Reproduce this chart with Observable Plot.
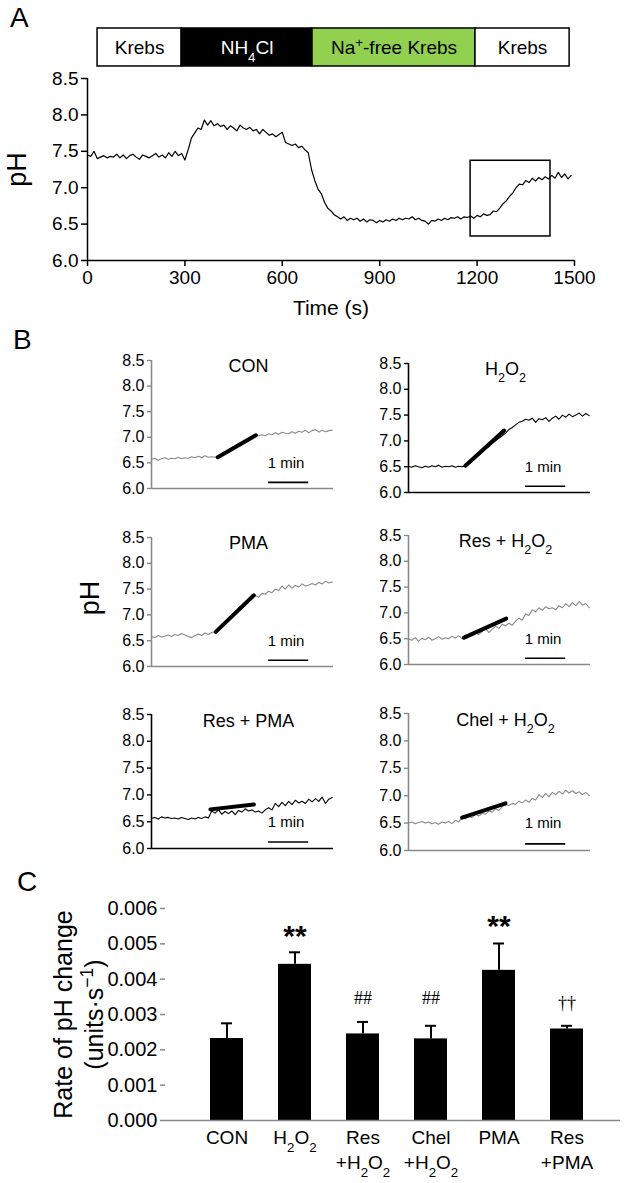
<!DOCTYPE html>
<html><head><meta charset="utf-8">
<script src="https://cdn.jsdelivr.net/npm/d3@7"></script>
<script src="https://cdn.jsdelivr.net/npm/@observablehq/plot@0.6"></script>
<style>
body{margin:0;background:#fff;}
#root{position:relative;width:626px;height:1183px;overflow:hidden;background:#fff;font-family:"Liberation Sans",Arial,Helvetica,sans-serif;color:#000;}
.panel{position:absolute;}
.panel svg{overflow:visible;}
.letter{position:absolute;font-size:28px;line-height:1;}
.vlabel{position:absolute;transform:translate(-50%,-50%) rotate(-90deg);white-space:nowrap;line-height:1;}
</style></head><body><div id="root"></div>
<script>
// ---------------- DATA ----------------
// Panel A: pH trace sampled every 10 s (0 … 1490 s)
const phA = [
  7.45, 7.43, 7.50, 7.40, 7.42, 7.44, 7.41, 7.43, 7.42, 7.46,
  7.41, 7.45, 7.40, 7.44, 7.46, 7.42, 7.39, 7.45, 7.43, 7.41,
  7.44, 7.47, 7.42, 7.45, 7.41, 7.48, 7.43, 7.50, 7.44, 7.47,
  7.38, 7.52, 7.68, 7.75, 7.82, 7.80, 7.93, 7.86, 7.92, 7.85,
  7.88, 7.84, 7.86, 7.80, 7.85, 7.82, 7.78, 7.86, 7.82, 7.80,
  7.83, 7.78, 7.80, 7.74, 7.80, 7.76, 7.72, 7.74, 7.70, 7.73,
  7.76, 7.62, 7.60, 7.58, 7.60, 7.55, 7.57, 7.52, 7.48, 7.25,
  7.10, 6.98, 6.92, 6.80, 6.72, 6.68, 6.63, 6.60, 6.57, 6.60,
  6.55, 6.58, 6.56, 6.58, 6.54, 6.57, 6.53, 6.56, 6.55, 6.52,
  6.55, 6.53, 6.56, 6.54, 6.57, 6.55, 6.58, 6.56, 6.58, 6.57,
  6.60, 6.56, 6.58, 6.55, 6.54, 6.50, 6.55, 6.54, 6.57, 6.55,
  6.58, 6.56, 6.59, 6.58, 6.60, 6.57, 6.60, 6.59, 6.61, 6.58,
  6.62, 6.60, 6.64, 6.62, 6.63, 6.68, 6.67, 6.72, 6.78, 6.82,
  6.88, 6.93, 7.00, 7.05, 7.04, 7.10, 7.07, 7.13, 7.09, 7.14,
  7.11, 7.15, 7.12, 7.17, 7.13, 7.21, 7.14, 7.19, 7.12, 7.17
];
const stepA = 10;
const timeTicksA = [0, 300, 600, 900, 1200, 1500];
const phTicks = [6.0, 6.5, 7.0, 7.5, 8.0, 8.5];
// solution bar above panel A
const bathLabels = ["Krebs", "NH_{4}Cl", "Na^{+}-free Krebs", "Krebs"];
const bathStart  = [31, 290, 693, 1195];
const bathEnd    = [290, 693, 1195, 1485];
// zoom box (region enlarged in panel B)
const boxTime = [1180, 1426];
const boxPH   = [6.33, 7.37];

// Panel B: traces sampled every 5 s (0 … 270 s)
const stepB = 5;
const titlesB = ["CON", "H_{2}O_{2}", "PMA", "Res + H_{2}O_{2}", "Res + PMA", "Chel + H_{2}O_{2}"];
const traceCON = [
  6.57, 6.59, 6.55, 6.58, 6.60, 6.57, 6.59, 6.58, 6.61, 6.58, 6.60,
  6.59, 6.62, 6.60, 6.63, 6.60, 6.64, 6.61, 6.62, 6.61, 6.63, 6.67,
  6.71, 6.75, 6.80, 6.83, 6.88, 6.91, 6.95, 6.98, 7.01, 7.04, 7.03,
  7.05, 7.03, 7.07, 7.05, 7.09, 7.06, 7.10, 7.08, 7.07, 7.11, 7.08,
  7.12, 7.10, 7.14, 7.09, 7.13, 7.15, 7.10, 7.14, 7.11, 7.13, 7.14
];
const traceH2O2 = [
  6.51, 6.49, 6.52, 6.50, 6.48, 6.51, 6.49, 6.52, 6.50, 6.53, 6.49,
  6.51, 6.50, 6.52, 6.49, 6.51, 6.50, 6.52, 6.55, 6.60, 6.66, 6.72,
  6.78, 6.84, 6.89, 6.95, 7.00, 7.05, 7.10, 7.15, 7.22, 7.26, 7.31,
  7.36, 7.38, 7.42, 7.40, 7.44, 7.36, 7.43, 7.41, 7.45, 7.38, 7.44,
  7.48, 7.42, 7.50, 7.46, 7.52, 7.47, 7.50, 7.54, 7.48, 7.53, 7.49
];
const tracePMA = [
  6.58, 6.56, 6.60, 6.57, 6.59, 6.61, 6.58, 6.62, 6.60, 6.64, 6.61,
  6.58, 6.56, 6.60, 6.63, 6.60, 6.65, 6.62, 6.66, 6.68, 6.74, 6.80,
  6.86, 6.92, 6.99, 7.05, 7.11, 7.18, 7.24, 7.30, 7.35, 7.38, 7.34,
  7.42, 7.40, 7.46, 7.43, 7.50, 7.47, 7.56, 7.50, 7.58, 7.52, 7.57,
  7.54, 7.60, 7.56, 7.58, 7.61, 7.58, 7.63, 7.60, 7.65, 7.62, 7.64
];
const traceResH2O2 = [
  6.50, 6.47, 6.52, 6.45, 6.51, 6.48, 6.53, 6.47, 6.50, 6.54, 6.49,
  6.52, 6.50, 6.55, 6.51, 6.56, 6.50, 6.53, 6.58, 6.56, 6.62, 6.58,
  6.64, 6.70, 6.62, 6.68, 6.74, 6.70, 6.78, 6.75, 6.80, 6.76, 6.84,
  6.90, 6.86, 6.98, 6.95, 7.06, 7.02, 7.10, 7.05, 7.12, 7.08, 7.10,
  7.06, 7.14, 7.10, 7.18, 7.12, 7.20, 7.14, 7.22, 7.15, 7.18, 7.10
];
const traceResPMA = [
  6.56, 6.58, 6.55, 6.59, 6.57, 6.58, 6.56, 6.57, 6.55, 6.58, 6.56,
  6.54, 6.57, 6.55, 6.58, 6.56, 6.59, 6.57, 6.70, 6.66, 6.72, 6.64,
  6.69, 6.65, 6.70, 6.63, 6.71, 6.68, 6.74, 6.70, 6.72, 6.68, 6.70,
  6.66, 6.72, 6.76, 6.72, 6.84, 6.78, 6.86, 6.80, 6.88, 6.82, 6.90,
  6.85, 6.88, 6.84, 6.92, 6.87, 6.93, 6.88, 6.96, 6.84, 6.92, 6.95
];
const traceChelH2O2 = [
  6.50, 6.52, 6.49, 6.51, 6.53, 6.50, 6.52, 6.49, 6.51, 6.48, 6.52,
  6.50, 6.53, 6.49, 6.55, 6.52, 6.60, 6.58, 6.62, 6.60, 6.66, 6.63,
  6.68, 6.66, 6.72, 6.70, 6.76, 6.73, 6.80, 6.84, 6.82, 6.86, 6.84,
  6.90, 6.87, 6.92, 6.88, 6.95, 6.92, 7.02, 6.97, 7.04, 6.98, 7.06,
  7.02, 7.08, 7.03, 7.10, 7.05, 7.09, 7.04, 7.07, 7.02, 7.06, 7.00
];
const tracesB = [traceCON, traceH2O2, tracePMA, traceResH2O2, traceResPMA, traceChelH2O2];
// fitted slope segments [t0, pH0] -> [t1, pH1]
const fitT0  = [99, 85, 96, 83, 88, 80];
const fitPH0 = [6.61, 6.52, 6.67, 6.52, 6.73, 6.60];
const fitT1  = [156, 143, 153, 146, 153, 145];
const fitPH1 = [7.04, 7.20, 7.38, 6.89, 6.82, 6.86];
const scaleBarT = [175, 235];   // 1 min
const scaleBarLabel = "1 min";

// Panel C
const groupsC = ["CON", "H_{2}O_{2}", "Res\n+H_{2}O_{2}", "Chel\n+H_{2}O_{2}", "PMA", "Res\n+PMA"];
const rateC   = [0.00232, 0.00442, 0.00245, 0.00231, 0.00425, 0.00259];
const errTopC = [0.00275, 0.00476, 0.00279, 0.00268, 0.00501, 0.00268];
const sigC    = ["", "**", "##", "##", "**", "††"];
const sigPosC = [0, 0.00522, 0.00345, 0.00345, 0.00548, 0.00333];
const rateTicks = [0, 0.001, 0.002, 0.003, 0.004, 0.005, 0.006];

// ---------------- STYLES / LAYOUT ----------------
const FONT = '"Liberation Sans", Arial, Helvetica, sans-serif';
const SERIF = '"Liberation Serif", "Times New Roman", serif';
const GREY = "#8a8a8a";
const bathFill = ["#ffffff", "#000000", "#92d050", "#ffffff"];
const bathInk  = ["#000000", "#ffffff", "#000000", "#000000"];
const styleB = [
  {axis: GREY, trace: GREY},
  {axis: "#000", trace: "#000"},
  {axis: GREY, trace: GREY},
  {axis: GREY, trace: GREY},
  {axis: "#000", trace: "#000"},
  {axis: GREY, trace: GREY}
];
const layoutB = [
  {left: 106, top: 360, bottom: 488},
  {left: 363, top: 363, bottom: 492},
  {left: 106, top: 537, bottom: 666},
  {left: 363, top: 535, bottom: 664},
  {left: 106, top: 714, bottom: 848},
  {left: 363, top: 713, bottom: 850}
];

const root = document.getElementById("root");

function rich(node) {
  const walker = document.createTreeWalker(node, NodeFilter.SHOW_TEXT);
  const list = [];
  while (walker.nextNode()) if (/[_^]\{/.test(walker.currentNode.nodeValue)) list.push(walker.currentNode);
  for (const tn of list) {
    const parts = tn.nodeValue.split(/([_^]\{[^}]*\})/);
    const frag = document.createDocumentFragment();
    for (const p of parts) {
      if (!p) continue;
      const m = p.match(/^([_^])\{([^}]*)\}$/);
      if (m) {
        const ts = document.createElementNS("http://www.w3.org/2000/svg", "tspan");
        ts.setAttribute("baseline-shift", m[1] === "_" ? "sub" : "super");
        ts.setAttribute("font-size", "70%");
        ts.textContent = m[2];
        frag.appendChild(ts);
      } else frag.appendChild(document.createTextNode(p));
    }
    tn.parentNode.replaceChild(frag, tn);
  }
}
function place(node, left, top) {
  const d = document.createElement("div");
  d.className = "panel";
  d.style.left = left + "px";
  d.style.top = top + "px";
  d.appendChild(node);
  root.appendChild(d);
  rich(node);
}
function letter(txt, left, top) {
  const d = document.createElement("div");
  d.className = "letter";
  d.style.left = left + "px";
  d.style.top = top + "px";
  d.textContent = txt;
  root.appendChild(d);
}

// ---------------- PANEL A ----------------
const dataA = phA.map((v, i) => ({t: i * stepA, ph: v}));
const bath = bathLabels.map((l, i) => ({label: l, start: bathStart[i], end: bathEnd[i], fill: bathFill[i], ink: bathInk[i]}));
const plotA = Plot.plot({
  width: 626, height: 320,
  marginLeft: 87, marginRight: 52, marginTop: 78, marginBottom: 60,
  x: {domain: [0, 1500]},
  y: {domain: [6, 8.5]},
  color: {type: "identity"},
  style: {fontFamily: FONT, fontSize: "19px", color: "#000", background: "transparent", overflow: "visible"},
  marks: [
    Plot.ruleY([6], {stroke: "#000", strokeWidth: 1.5}),
    Plot.ruleX([0], {stroke: "#000", strokeWidth: 1.5}),
    Plot.axisX({ticks: timeTicksA, tickFormat: d => String(d), tickSize: 6, tickPadding: 4, fontSize: 19, label: null, strokeWidth: 1.5}),
    Plot.axisY({ticks: phTicks, tickFormat: d3.format(".1f"), tickSize: 6, tickPadding: 3, fontSize: 19, label: null, strokeWidth: 1.5}),
    Plot.line(dataA, {x: "t", y: "ph", stroke: "#000", strokeWidth: 1.2}),
    Plot.rect([0], {x1: boxTime[0], x2: boxTime[1], y1: boxPH[0], y2: boxPH[1], fill: "none", stroke: "#000", strokeWidth: 1.5}),
    Plot.rect(bath, {x1: "start", x2: "end", y1: 8.665, y2: 9.187, fill: "fill", stroke: "#000", strokeWidth: 1.5}),
    Plot.text(bath, {x: d => (d.start + d.end) / 2, y: 8.926, text: "label", fill: "ink", fontSize: 19}),
    Plot.text(["Time (s)"], {text: d => d, frameAnchor: "bottom", dy: 48, lineAnchor: "middle", fontSize: 21}),
    Plot.text(["pH"], {text: d => d, frameAnchor: "left", textAnchor: "middle", lineAnchor: "middle", rotate: -90, dx: -70, fontSize: 27})
  ]
});
place(plotA, 0, 0);
letter("A", 10, 4);

// ---------------- PANEL B ----------------
tracesB.forEach((tr, k) => {
  const data = tr.map((v, i) => ({t: i * stepB, ph: v}));
  const fit = [{t: fitT0[k], ph: fitPH0[k]}, {t: fitT1[k], ph: fitPH1[k]}];
  const L = layoutB[k], S = styleB[k];
  const h = L.bottom - L.top;
  const mt = 12, mb = 4;
  const svg = Plot.plot({
    width: 230, height: mt + h + mb,
    marginLeft: 45, marginRight: 3, marginTop: mt, marginBottom: mb,
    x: {domain: [0, 272], axis: null},
    y: {domain: [6, 8.5]},
    style: {fontFamily: FONT, fontSize: "16px", color: "#000", background: "transparent", overflow: "visible"},
    marks: [
      Plot.ruleY([6], {stroke: S.axis, strokeWidth: 1.6}),
      Plot.ruleX([0], {stroke: S.axis, strokeWidth: 1.6}),
      Plot.axisY({ticks: phTicks, tickFormat: d3.format(".1f"), tickSize: 4, tickPadding: 3, fontSize: 16, label: null, stroke: S.axis, fill: "#000", strokeWidth: 1.4}),
      Plot.line(data, {x: "t", y: "ph", stroke: S.trace, strokeWidth: 1.1}),
      Plot.line(fit, {x: "t", y: "ph", stroke: "#000", strokeWidth: 4}),
      Plot.ruleY([6.12], {x1: scaleBarT[0], x2: scaleBarT[1], stroke: "#000", strokeWidth: 1.6}),
      Plot.text([scaleBarLabel], {text: d => d, x: (scaleBarT[0] + scaleBarT[1]) / 2 - 4, y: 6.5, fontSize: 15}),
      Plot.text([titlesB[k]], {text: d => d, x: 145, y: 8.38, fontSize: 18})
    ]
  });
  place(svg, L.left, L.top - mt);
});
letter("B", 13, 326);
const phB = document.createElement("div");
phB.className = "vlabel";
phB.style.left = "90px"; phB.style.top = "598px"; phB.style.fontSize = "27px";
phB.textContent = "pH";
root.appendChild(phB);

// ---------------- PANEL C ----------------
const dataC = groupsC.map((g, i) => ({g, v: rateC[i], e: errTopC[i], s: sigC[i], sy: sigPosC[i]}));
const plotC = Plot.plot({
  width: 626, height: 322,
  marginLeft: 165, marginRight: 6, marginTop: 48, marginBottom: 62,
  x: {domain: groupsC, padding: 0.52, insetLeft: 8},
  y: {domain: [0, 0.006]},
  style: {fontFamily: FONT, fontSize: "19px", color: "#000", background: "transparent", overflow: "visible"},
  marks: [
    Plot.barY(dataC, {x: "g", y: "v", fill: "#000"}),
    Plot.ruleX(dataC, {x: "g", y1: "v", y2: "e", stroke: "#000", strokeWidth: 2}),
    Plot.tickY(dataC, {x: "g", y: "e", stroke: "#000", strokeWidth: 2, insetLeft: 11, insetRight: 11}),
    Plot.ruleY([0], {stroke: GREY, strokeWidth: 1.6}),
    Plot.axisY({ticks: rateTicks, tickFormat: d3.format(".3f"), tickSize: 5, tickPadding: 3, fontSize: 20, label: null, stroke: GREY, fill: "#000", line: true, strokeWidth: 1.5}),
    Plot.axisX({tickSize: 0, tickPadding: 6, fontSize: 19, lineHeight: 1.3, label: null}),
    Plot.text(dataC.filter(d => d.s === "**"), {x: "g", y: "sy", text: "s", fontSize: 30, fontWeight: "bold"}),
    Plot.text(dataC.filter(d => d.s && d.s !== "**"), {x: "g", y: "sy", text: "s", fontSize: 18, fontFamily: SERIF}),
    Plot.text(["Rate of pH change\n(units·s^{−1})"], {text: d => d, frameAnchor: "left", textAnchor: "middle", lineAnchor: "middle", rotate: -90, dx: -88, fontSize: 25, lineHeight: 1.25})
  ]
});
place(plotC, 0, 860);
letter("C", 17, 868);
</script></body></html>
